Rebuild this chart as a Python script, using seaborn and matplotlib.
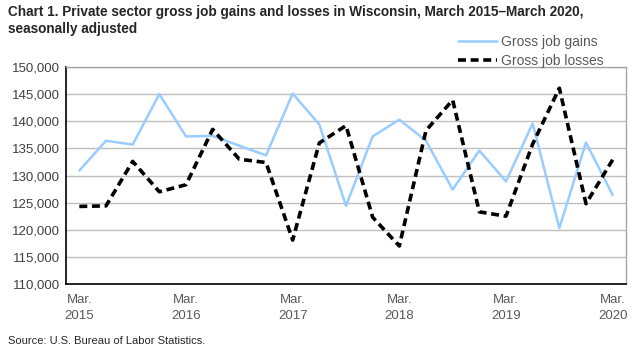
import matplotlib
matplotlib.use("Agg")
import matplotlib.pyplot as plt
import seaborn as sns
import pandas as pd
import numpy as np
from matplotlib.lines import Line2D

quarters = ["Mar. 2015", "Jun. 2015", "Sep. 2015", "Dec. 2015",
            "Mar. 2016", "Jun. 2016", "Sep. 2016", "Dec. 2016",
            "Mar. 2017", "Jun. 2017", "Sep. 2017", "Dec. 2017",
            "Mar. 2018", "Jun. 2018", "Sep. 2018", "Dec. 2018",
            "Mar. 2019", "Jun. 2019", "Sep. 2019", "Dec. 2019",
            "Mar. 2020"]
gains = [130900, 136400, 135700, 145000, 137200, 137300, 135500, 133700,
         145100, 139400, 124400, 137200, 140300, 136400, 127400, 134600,
         128900, 139600, 120300, 136100, 126400]
losses = [124300, 124400, 132600, 127000, 128300, 138500, 133000, 132400,
          118100, 136000, 139200, 122300, 117000, 138300, 143900, 123300,
          122500, 135800, 146100, 124800, 132900]
x_labels = ["Mar.\n2015", "Mar.\n2016", "Mar.\n2017", "Mar.\n2018",
            "Mar.\n2019", "Mar.\n2020"]
y_ticks = list(range(110000, 150001, 5000))

sns.set_style("white")
plt.rcParams["font.family"] = ["Liberation Sans", "DejaVu Sans"]

df = pd.DataFrame({
    "idx": list(range(len(quarters))) * 2,
    "value": gains + losses,
    "series": ["Gross job gains"] * len(gains) + ["Gross job losses"] * len(losses),
})

fig = plt.figure(figsize=(6.42, 3.5), dpi=100)
ax = fig.add_axes([66 / 642, 1 - 284 / 350, 560 / 642, 217 / 350])

sns.lineplot(data=df, x="idx", y="value", hue="series", style="series",
             palette={"Gross job gains": "#99CCFF", "Gross job losses": "black"},
             dashes={"Gross job gains": "", "Gross job losses": (2.2, 1.3)},
             ax=ax, legend=False)
lines = ax.get_lines()
lines[0].set_linewidth(1.8)
lines[1].set_linewidth(2.6)
lines[1].set_zorder(3)

ax.set_xlim(-0.5, len(quarters) - 0.5)
ax.set_ylim(110000, 150000)
ax.set_yticks(y_ticks)
ax.set_yticklabels([f"{v:,}" for v in y_ticks], fontsize=9.5, color="#404040")
ax.yaxis.grid(True, color="#BFBFBF", linewidth=1)
ax.set_axisbelow(True)

ax.set_xticks(list(range(0, len(quarters), 4)))
ax.set_xticklabels(x_labels, fontsize=9.5, color="#595959", linespacing=1.45)
ax.set_xticks(np.arange(-0.5, len(quarters), 1), minor=True)
ax.tick_params(axis="x", which="major", length=0, pad=7)
ax.tick_params(axis="x", which="minor", length=5, width=1, color="black", direction="out")
ax.tick_params(axis="y", length=0, pad=4)
ax.set_xlabel("")
ax.set_ylabel("")

for s in ["top", "right"]:
    ax.spines[s].set_color("#A6A6A6")
    ax.spines[s].set_linewidth(1)
for s in ["left", "bottom"]:
    ax.spines[s].set_color("black")
    ax.spines[s].set_linewidth(1.2)

fig.text(8 / 642, 1 - 5 / 350,
         "Chart 1. Private sector gross job gains and losses in Wisconsin, March 2015\u2013March 2020,\nseasonally adjusted",
         fontsize=9.8, fontweight="bold", va="top", ha="left", linespacing=1.25)

handles = [Line2D([], [], color="#99CCFF", lw=1.8),
           Line2D([], [], color="black", lw=2.6, dashes=(2.2, 1.3))]
leg = fig.legend(handles, ["Gross job gains", "Gross job losses"],
                 loc="upper left", bbox_to_anchor=(458 / 642, 1 - 35 / 350),
                 frameon=False, fontsize=10, handlelength=2.8, handletextpad=0.3,
                 labelspacing=0.35, borderaxespad=0, borderpad=0)
for t in leg.get_texts():
    t.set_color("#595959")

fig.text(8 / 642, 1 - 341 / 350, "Source: U.S. Bureau of Labor Statistics.",
         fontsize=8, va="center", ha="left")

fig.savefig("out.png", dpi=100)
